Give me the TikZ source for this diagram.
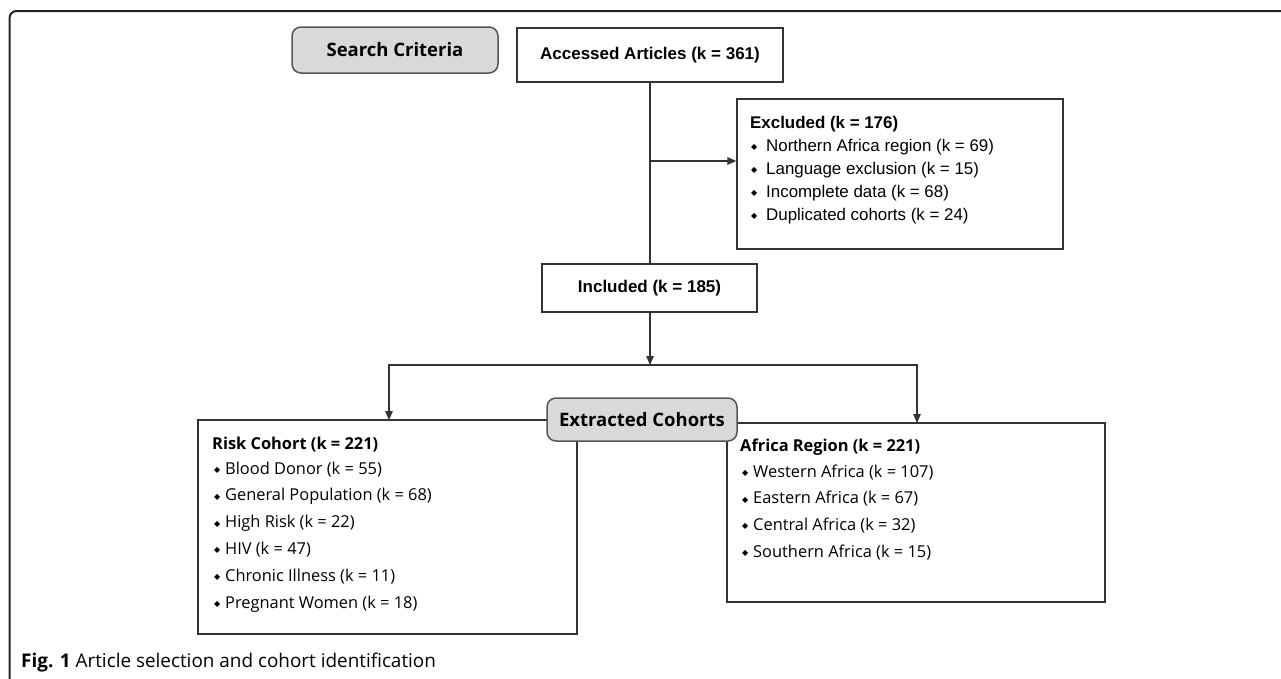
\documentclass[tikz,border=0pt]{standalone}
\usepackage{fontspec}
\setmainfont{Liberation Sans}
\newfontfamily\osans{Open Sans}
\newfontfamily\symf{DejaVu Sans}
\usetikzlibrary{arrows.meta}
\definecolor{linec}{HTML}{333333}
\definecolor{pillf}{HTML}{D9D9D9}
\definecolor{pilld}{HTML}{555555}
\newcommand\dmd{\raisebox{1.6pt}{\symf\fontsize{8}{8}\selectfont ◆}}
\newcommand\itmA{\makebox[15pt][l]{\hspace{0pt}\dmd}}
\newcommand\itmB{\makebox[11pt][l]{\hspace{0pt}\dmd}}
\begin{document}
\begin{tikzpicture}[x=1pt,y=-1pt,
  box/.style={draw=linec, line width=1.3pt, inner sep=0pt, rectangle},
  pill/.style={draw=pilld, fill=pillf, line width=1.5pt, rounded corners=9pt, inner sep=0pt,
    font=\osans\bfseries\fontsize{18.5}{22}\selectfont},
  conn/.style={draw=linec, line width=1.3pt},
  arr/.style={conn, -{Triangle[length=9pt,width=7.5pt]}},
  ex/.style={font=\fontsize{16.9}{20}\selectfont, anchor=base west, inner sep=0pt},
  rc/.style={font=\osans\fontsize{16.4}{20}\selectfont, anchor=base west, inner sep=0pt},
  lbl/.style={font=\bfseries\fontsize{17}{20}\selectfont}
]
\useasboundingbox (0,0) rectangle (1281,678);
% outer frame
\draw[line width=2pt, rounded corners=7pt, color=black!85] (9.5,680) -- (9.5,11) -- (1283,11);

% boxes
\node[pill, minimum width=206pt, minimum height=46pt] (search) at (395,50) {Search Criteria};
\node[box, lbl, minimum width=266pt, minimum height=54pt] (access) at (650,55) {Accessed Articles (k = 361)};
\node[box, minimum width=326pt, minimum height=150pt] (excl) at (900,174) {};
\node[box, lbl, minimum width=215pt, minimum height=48pt] (incl) at (649.5,288) {Included (k = 185)};
\node[box, minimum width=379pt, minimum height=214pt] (risk) at (387.5,527) {};
\node[box, minimum width=378pt, minimum height=179pt] (africa) at (916,512.5) {};

% excluded text
\node[ex] (ext) at (750,128) {\bfseries Excluded (k = 176)};
\node[ex] (ex1) at (751,151) {\itmA Northern Africa region (k = 69)};
\node[ex] (ex2) at (751,174) {\itmA Language exclusion (k = 15)};
\node[ex] (ex3) at (751,197) {\itmA Incomplete data (k = 68)};
\node[ex] (ex4) at (751,220) {\itmA Duplicated cohorts (k = 24)};

% risk cohort text
\node[rc] (rct) at (212,449) {\bfseries Risk Cohort (k = 221)};
\node[rc] (rc1) at (214,474) {\itmB Blood Donor (k = 55)};
\node[rc] (rc2) at (214,500.8) {\itmB General Population (k = 68)};
\node[rc] (rc3) at (214,527.6) {\itmB High Risk (k = 22)};
\node[rc] (rc4) at (214,554.4) {\itmB HIV (k = 47)};
\node[rc] (rc5) at (214,581.2) {\itmB Chronic Illness (k = 11)};
\node[rc] (rc6) at (214,608) {\itmB Pregnant Women (k = 18)};

% africa text
\node[rc] (aft) at (740,451) {\bfseries Africa Region (k = 221)};
\node[rc] (af1) at (742,477) {\itmB Western Africa (k = 107)};
\node[rc] (af2) at (742,503.7) {\itmB Eastern Africa (k = 67)};
\node[rc] (af3) at (742,530.4) {\itmB Central Africa (k = 32)};
\node[rc] (af4) at (742,557.1) {\itmB Southern Africa (k = 15)};

% connectors
\coordinate (brk) at (650,161);
\coordinate (jn) at (650,365);
\draw[conn] (access.south) -- (access.south |- incl.north);
\draw[arr] (brk) -- (brk -| excl.west);
\draw[arr] (incl.south -| access.south) -- (jn);
\draw[conn, {Triangle[length=9pt,width=7.5pt]}-{Triangle[length=9pt,width=7.5pt]}]
  (389,420) -- (389,365) -- (917,365) -- (917,423);

% extracted cohorts on top
\node[pill, minimum width=190pt, minimum height=43pt] (extr) at (642,419.5) {Extracted Cohorts};

% caption
\node[anchor=base west, inner sep=0pt, font=\osans\fontsize{18.9}{22}\selectfont] (cap) at (21,667)
  {\textbf{Fig. 1} Article selection and cohort identification};
\end{tikzpicture}
\end{document}
